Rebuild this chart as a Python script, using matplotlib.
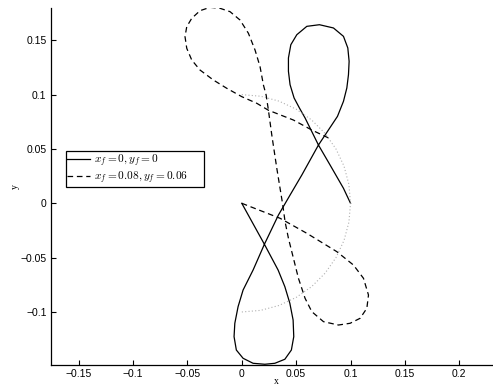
import numpy as np
import matplotlib
matplotlib.use("Agg")
import matplotlib.pyplot as plt

plt.rcParams['font.family'] = ['Liberation Sans', 'DejaVu Sans']
plt.rcParams['mathtext.fontset'] = 'cm'

# solid trajectory (x_f = 0, y_f = 0)
x_solid = [0.1, 0.0935, 0.0812, 0.0705, 0.0582, 0.053, 0.0481, 0.0444, 0.0429, 0.0429,
           0.0451, 0.0506, 0.0598, 0.0714, 0.0843, 0.0935, 0.0975, 0.0987, 0.0981, 0.0966,
           0.0935, 0.0880, 0.0705, 0.0552, 0.0444, 0.0337, 0.0208, 0.0104, 0.0012,
           -0.0034, -0.0064, -0.0071, -0.005, 0.0012, 0.0104, 0.0212, 0.0304, 0.0396, 0.0456,
           0.0478, 0.0472, 0.0442, 0.0396, 0.0334, 0.0208, 0.0]
y_solid = [0.0, 0.0138, 0.0352, 0.0536, 0.0785, 0.0877, 0.0969, 0.1091, 0.1214, 0.1337,
           0.1459, 0.1551, 0.1628, 0.1643, 0.1613, 0.1536, 0.1429, 0.1306, 0.1183, 0.1061,
           0.0938, 0.0800, 0.0536, 0.026, 0.0076, -0.0108, -0.0377, -0.0614, -0.0798,
           -0.0951, -0.1104, -0.1227, -0.135, -0.1426, -0.1472, -0.1481, -0.1472, -0.1435, -0.135,
           -0.1227, -0.1074, -0.092, -0.0767, -0.0614, -0.0377, 0.0]

# dashed trajectory (x_f = 0.08, y_f = 0.06)
x_dash = [0.0, 0.0352, 0.0598, 0.0874, 0.1027, 0.1119, 0.1165, 0.115, 0.1088, 0.0996,
          0.0889, 0.0751, 0.0644, 0.0582, 0.0521, 0.0475, 0.0429, 0.0398, 0.0377, 0.0322,
          0.0276, 0.0245, 0.0224, 0.0199, 0.0168, 0.0122, 0.0061, -0.0016, -0.0108, -0.02,
          -0.0292, -0.0384, -0.046, -0.0506, -0.0522, -0.0506, -0.046, -0.0384, -0.0261, -0.0138,
          0.0, 0.0138, 0.0245, 0.0475, 0.0644, 0.08]
y_dash = [0.0, -0.0138, -0.0276, -0.0445, -0.0568, -0.069, -0.0844, -0.0966, -0.1058, -0.1104,
          -0.112, -0.1089, -0.0997, -0.0874, -0.069, -0.0506, -0.0322, -0.0169, -0.0016, 0.0322,
          0.0628, 0.0856, 0.0996, 0.1088, 0.1257, 0.141, 0.1564, 0.1686, 0.1763, 0.1794,
          0.1803, 0.1772, 0.1702, 0.1625, 0.1533, 0.1426, 0.1318, 0.1226, 0.1134, 0.1058,
          0.0981, 0.092, 0.0856, 0.0766, 0.0674, 0.06]

# dotted half circle, radius 0.1
x_circ = [0.0, 0.0174, 0.0342, 0.05, 0.0643, 0.0766, 0.0866, 0.094, 0.0985, 0.1,
          0.0985, 0.094, 0.0866, 0.0766, 0.0643, 0.05, 0.0342, 0.0174, 0.0]
y_circ = [0.1, 0.0985, 0.094, 0.0866, 0.0766, 0.0643, 0.05, 0.0342, 0.0174, 0.0,
          -0.0174, -0.0342, -0.05, -0.0643, -0.0766, -0.0866, -0.094, -0.0985, -0.1]

labels = [r'$x_f = 0, y_f = 0$', r'$x_f = 0.08, y_f = 0.06$']
xticks = [-0.15, -0.1, -0.05, 0, 0.05, 0.1, 0.15, 0.2]
yticks = [-0.1, -0.05, 0, 0.05, 0.1, 0.15]

fig = plt.figure(figsize=(4.93, 3.87), dpi=100)
ax = fig.add_axes([50.7/493, (387-364.7)/387, (493-50.7)/493, (364.7-8.3)/387])

ax.plot(x_solid, y_solid, color='black', lw=0.9, label=labels[0])
ax.plot(x_dash, y_dash, color='black', lw=0.9, dashes=(4.5, 3), label=labels[1])
ax.plot(x_circ, y_circ, color='#b0b0b0', lw=0.8, linestyle=(0, (1, 2)))

ax.set_xlim(-0.1757, 0.231)
ax.set_ylim(-0.1485, 0.1794)
ax.set_xticks(xticks)
ax.set_yticks(yticks)
ax.set_xticklabels(['\u22120.15', '\u22120.1', '\u22120.05', '0', '0.05', '0.1', '0.15', '0.2'])
ax.set_yticklabels(['\u22120.1', '\u22120.05', '0', '0.05', '0.1', '0.15'])
ax.tick_params(direction='in', length=3.5, width=0.8, labelsize=7.5, pad=3)

for s in ['top', 'right']:
    ax.spines[s].set_visible(False)
for s in ['left', 'bottom']:
    ax.spines[s].set_linewidth(0.9)

ax.set_xlabel('x', family='Liberation Serif', fontsize=7, va='center')
ax.xaxis.set_label_coords(0.511, -0.048)
ax.set_ylabel('y', family='Liberation Serif', fontsize=7, va='center')
ax.yaxis.set_label_coords(-0.081, 0.5)

leg = ax.legend(loc='upper left', bbox_to_anchor=(0.034, 0.518, 0.313, 0.082), mode='expand',
                borderaxespad=0, fontsize=8.2, fancybox=False, framealpha=1, edgecolor='black',
                handlelength=2.0, handletextpad=0.3, borderpad=0.15, labelspacing=0.0)
leg.get_frame().set_linewidth(0.9)

fig.savefig('out.png', dpi=100)
